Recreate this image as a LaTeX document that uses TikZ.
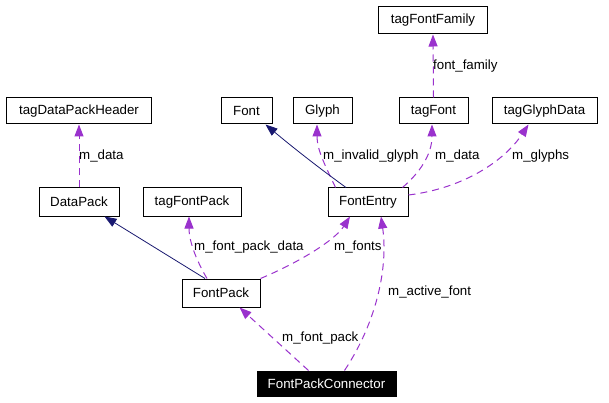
\documentclass[tikz,border=0pt]{standalone}
\usepackage{fontspec}
\setmainfont{Liberation Sans}
\usetikzlibrary{arrows.meta,calc}
\definecolor{depc}{HTML}{9A32CD}
\definecolor{inhc}{HTML}{191970}
\begin{document}
\begin{tikzpicture}[x=1pt,y=-1pt,
  font=\fontsize{13.3}{16}\selectfont,
  cls/.style={draw=black, line width=1pt, inner sep=0pt, minimum height=27pt, text=black},
  deplink/.style={draw=depc, line width=1pt, dash pattern=on 7pt off 5pt,
    -{Triangle[length=12pt,width=9pt,fill=depc,sep=0pt]}},
  inhlink/.style={draw=inhc, line width=0.8pt,
    -{Triangle[length=12pt,width=9pt,fill=inhc]}},
  lbl/.style={anchor=west, inner sep=0pt, text=black}]
\useasboundingbox (0,0) rectangle (609,403);
\fill[white] (0,0) rectangle (609,403);

% classes
\node[cls, minimum width=109pt] (tagFontFamily) at (433,20.5) {tagFontFamily};
\node[cls, minimum width=145pt, minimum height=26pt] (tagDataPackHeader) at (79,111) {tagDataPackHeader};
\node[cls, minimum width=51pt, minimum height=26pt] (Font) at (246.5,111) {Font};
\node[cls, minimum width=59pt, minimum height=26pt] (Glyph) at (322.5,111) {Glyph};
\node[cls, minimum width=69pt, minimum height=26pt] (tagFont) at (433.5,111) {tagFont};
\node[cls, minimum width=105pt, minimum height=26pt] (tagGlyphData) at (544.5,111) {tagGlyphData};
\node[cls, minimum width=80pt, minimum height=28pt] (DataPack) at (79,202) {DataPack};
\node[cls, minimum width=98pt, minimum height=28pt] (tagFontPack) at (192,202) {tagFontPack};
\node[cls, minimum width=80pt, minimum height=28pt] (FontEntry) at (368,202) {FontEntry};
\node[cls, minimum width=78pt, minimum height=28pt] (FontPack) at (221,293) {FontPack};
\node[cls, fill=black, text=white, minimum width=139pt, minimum height=25pt] (FontPackConnector) at (326.5,383.5) {FontPackConnector};

% dependency links
\draw[deplink] (tagFont.north) -- (tagFontFamily.south);
\draw[deplink] (DataPack.north) -- (tagDataPackHeader.south);
\draw[deplink] ($(FontEntry.north west)+(8,0)$) .. controls (325,165) and (317,150) .. ($(Glyph.south)+(-5.5,0)$);
\draw[deplink] ($(FontEntry.north east)+(-6,0)$) .. controls (425,168) and (432,150) .. ($(tagFont.south)+(-1.5,0)$);
\draw[deplink] ($(FontEntry.east)+(0,-7)$) .. controls (465,188) and (505,160) .. ($(tagGlyphData.south)+(-16,0)$);
\draw[deplink] ($(FontPack.north)+(-14,0)$) .. controls (195,258) and (189,240) .. ($(tagFontPack.south)+(-3,0)$);
\draw[deplink] (FontPack.north east) .. controls (300,262) and (335,240) .. ($(FontEntry.south)+(-18,0)$);
\draw[deplink] ($(FontPackConnector.north)+(-18,0)$) -- ($(FontPack.south east)+(-21,0)$);
\draw[deplink] ($(FontPackConnector.north)+(18,0)$) .. controls (378,320) and (388,265) .. ($(FontEntry.south)+(13,0)$);

% inheritance links
\draw[inhlink] ($(FontEntry.north)+(-22,0)$) .. controls (315,165) and (290,145) .. ($(Font.south east)+(-7,0)$);
\draw[inhlink] ($(FontPack.north)+(-16,0)$) -- ($(DataPack.south east)+(-15,0)$);

% labels
\node[lbl] (l1) at (433,66) {font\_family};
\node[lbl] (l2) at (79,156) {m\_data};
\node[lbl] (l3) at (323,156) {m\_invalid\_glyph};
\node[lbl] (l4) at (435,156) {m\_data};
\node[lbl] (l5) at (512,156) {m\_glyphs};
\node[lbl] (l6) at (194,247) {m\_font\_pack\_data};
\node[lbl] (l7) at (334,247) {m\_fonts};
\node[lbl] (l8) at (388,292) {m\_active\_font};
\node[lbl] (l9) at (282,338) {m\_font\_pack};
\end{tikzpicture}
\end{document}
